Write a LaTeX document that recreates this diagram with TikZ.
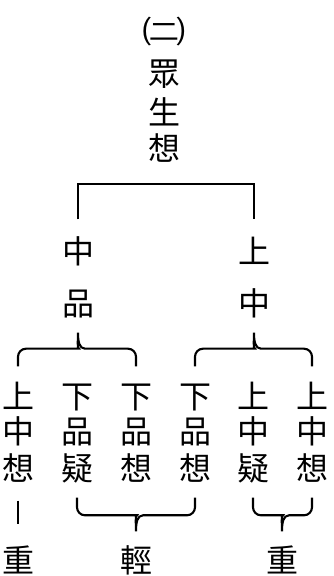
\documentclass[tikz,border=0pt]{standalone}
\usepackage{fontspec}
\newfontfamily\cjk{Noto Sans CJK TC}
\usetikzlibrary{positioning, calc}

\tikzset{
  word/.style={font=\cjk\fontsize{32}{32}\selectfont, inner sep=0pt,
    text height=27pt, text depth=2pt},
  link/.style={line width=2.1pt, black},
}
% curly brace: left end, tip, right end, signed depth of the tip
\newcommand\curly[4]{%
  \draw[link, rounded corners=8pt] (#1) -- ($(#1 |- #2)+(0,#4)$) -- ($(#2)+(-7,#4)$)
    [sharp corners] .. controls ($(#2)+(-1,#4)$) and ($(#2)+(0,{0.5*(#4)})$) .. (#2)
    .. controls ($(#2)+(0,{0.5*(#4)})$) and ($(#2)+(1,#4)$) .. ($(#2)+(7,#4)$)
    [rounded corners=8pt] -- ($(#3 |- #2)+(0,#4)$) -- (#3);}

\begin{document}
\begin{tikzpicture}[x=1pt, y=1pt]
  \useasboundingbox (0,0) rectangle (333,576);

  % head
  \node[word, font=\cjk\fontsize{30}{30}\selectfont] (paren) at (164,545) {\scalebox{1.45}[1.05]{㈡}};
  \node[word] (root1) at (164,503) {眾};
  \node[word] (root2) at (164,464) {生};
  \node[word] (root3) at (164,428) {想};

  % second level
  \node[word] (ml1) at (78,325) {中};
  \node[word] (ml2) at (78,273) {品};
  \node[word] (mr1) at (254,325) {上};
  \node[word] (mr2) at (254,273) {中};
  \draw[link] ($(ml1.north)+(0,17)$) |- ($(root3.south)+(0,-21)$) -| ($(mr1.north)+(0,17)$);

  % columns
  \foreach \n/\px/\ca/\cb/\cc in {
    1/18/上/中/想,
    2/77/下/品/疑,
    3/136/下/品/想,
    4/195/下/品/想,
    5/253/上/中/疑,
    6/312/上/中/想
  } {
    \node[word] (c\n-1) at (\px,180) {\ca};
    \node[word] (c\n-2) at (\px,145) {\cb};
    \node[word] (c\n-3) at (\px,108) {\cc};
  }

  % bottom labels
  \node[word] (heavyl) at (18,16) {重};
  \node[word] (light) at (136,16) {輕};
  \node[word] (heavyr) at (282,16) {重};

  % braces
  \coordinate (tipl) at ($(ml2.south)+(0,-15)$);
  \coordinate (tipr) at ($(mr2.south)+(0,-15)$);
  \coordinate (ul1) at ($(c1-1.north)+(0,15)$);
  \coordinate (ul3) at ($(c3-1.north)+(0,15)$);
  \coordinate (ul4) at ($(c4-1.north)+(0,15)$);
  \coordinate (ul6) at ($(c6-1.north)+(0,15)$);
  \curly{ul1}{tipl}{ul3}{-16}
  \curly{ul4}{tipr}{ul6}{-16}

  \coordinate (tipb) at ($(light.north)+(0,14)$);
  \coordinate (tipc) at ($(heavyr.north)+(0,14)$);
  \coordinate (dl2) at ($(c2-3.south)+(0,-15)$);
  \coordinate (dl4) at ($(c4-3.south)+(0,-15)$);
  \coordinate (dl5) at ($(c5-3.south)+(0,-15)$);
  \coordinate (dl6) at ($(c6-3.south)+(0,-15)$);
  \curly{dl2}{tipb}{dl4}{16}
  \curly{dl5}{tipc}{dl6}{16}

  \draw[link] ($(c1-3.south)+(0,-18)$) -- ($(heavyl.north)+(0,21)$);
\end{tikzpicture}
\end{document}
